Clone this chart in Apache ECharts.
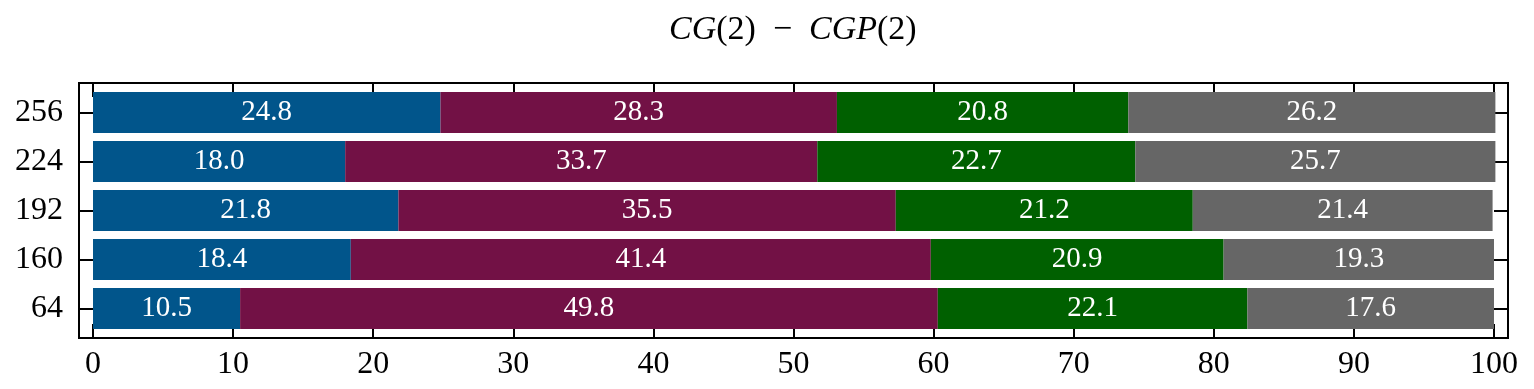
<!DOCTYPE html>
<html>
<head>
<meta charset="utf-8">
<script src="https://cdn.jsdelivr.net/npm/echarts@6/dist/echarts.min.js"></script>
<style>
  html, body { margin: 0; padding: 0; background: #fff; }
  #chart { width: 1534px; height: 389px; }
</style>
</head>
<body>
<div id="chart"></div>
<script>
// categories bottom -> top
var categories = ["64", "160", "192", "224", "256"];
var seriesNames = ["s1", "s2", "s3", "s4"];
var s1Values = [10.5, 18.4, 21.8, 18.0, 24.8];
var s2Values = [49.8, 41.4, 35.5, 33.7, 28.3];
var s3Values = [22.1, 20.9, 21.2, 22.7, 20.8];
var s4Values = [17.6, 19.3, 21.4, 25.7, 26.2];
var xTicks = [0, 10, 20, 30, 40, 50, 60, 70, 80, 90, 100];
var colors = ["#01558b", "#721145", "#006000", "#666666"];

var FONT = "Liberation Serif";

function makeSeries(name, values, color) {
  return {
    name: name,
    type: "bar",
    stack: "total",
    xAxisIndex: 1,
    yAxisIndex: 1,
    barWidth: 41,
    data: values,
    itemStyle: { color: color },
    label: {
      show: true,
      position: "inside",
      color: "#fff",
      fontFamily: FONT,
      fontSize: 29,
      formatter: function (p) {
        return p.value.toFixed(1);
      },
    },
  };
}

var tickStyle = { color: "#000", width: 2 };

var option = {
  animation: false,
  title: {
    text: "{i|CG}(2)  −  {i|CGP}(2)",
    left: 664,
    top: 8,
    textStyle: {
      fontFamily: FONT,
      fontSize: 34,
      fontWeight: "normal",
      color: "#000",
      rich: {
        i: { fontFamily: FONT, fontSize: 34, fontStyle: "italic", color: "#000" },
      },
    },
  },
  grid: [
    // outer frame + bottom x axis
    {
      left: 79, right: 26, top: 83, bottom: 51,
      show: true, borderColor: "#000", borderWidth: 2,
    },
    // inner band area for the bars
    { left: 79, right: 26, top: 88, bottom: 56 },
    // strip above the frame, spanning 0..100, its bottom edge is the frame top
    { left: 93, right: 40, top: 40, bottom: 306 },
  ],
  xAxis: [
    {
      gridIndex: 0,
      type: "value",
      min: -1,
      max: 101,
      position: "bottom",
      axisLine: { show: false, onZero: false },
      splitLine: { show: false },
      axisTick: {
        show: true,
        inside: true,
        length: 14,
        customValues: xTicks,
        lineStyle: tickStyle,
      },
      axisLabel: {
        customValues: xTicks,
        margin: 11,
        color: "#000",
        fontFamily: FONT,
        fontSize: 32,
      },
    },
    { gridIndex: 1, type: "value", min: -1, max: 101, show: false },
    {
      // mirrored ticks on the top edge of the frame
      gridIndex: 2,
      type: "value",
      min: 0,
      max: 100,
      interval: 10,
      position: "bottom",
      axisLine: { show: false, onZero: false },
      splitLine: { show: false },
      axisTick: {
        show: true,
        inside: false,
        length: 14,
        lineStyle: tickStyle,
      },
      axisLabel: {
        show: true,
        formatter: function () {
          return "";
        },
      },
    },
  ],
  yAxis: [
    { gridIndex: 0, type: "value", min: 0, max: 1, show: false },
    {
      gridIndex: 1,
      type: "category",
      data: categories,
      position: "left",
      axisLine: { show: false, onZero: false },
      axisTick: {
        show: true,
        inside: true,
        alignWithLabel: true,
        length: 14,
        lineStyle: tickStyle,
      },
      axisLabel: {
        margin: 16,
        color: "#000",
        fontFamily: FONT,
        fontSize: 32,
      },
    },
    {
      gridIndex: 1,
      type: "category",
      data: categories,
      position: "right",
      axisLine: { show: false, onZero: false },
      axisTick: {
        show: true,
        inside: true,
        alignWithLabel: true,
        length: 14,
        lineStyle: tickStyle,
      },
      axisLabel: { show: false },
    },
    { gridIndex: 2, type: "value", min: 0, max: 1, show: false },
  ],
  series: [
    makeSeries(seriesNames[0], s1Values, colors[0]),
    makeSeries(seriesNames[1], s2Values, colors[1]),
    makeSeries(seriesNames[2], s3Values, colors[2]),
    makeSeries(seriesNames[3], s4Values, colors[3]),
  ],
};

var myChart = echarts.init(document.getElementById("chart"));
myChart.setOption(option, true);
</script>
</body>
</html>
